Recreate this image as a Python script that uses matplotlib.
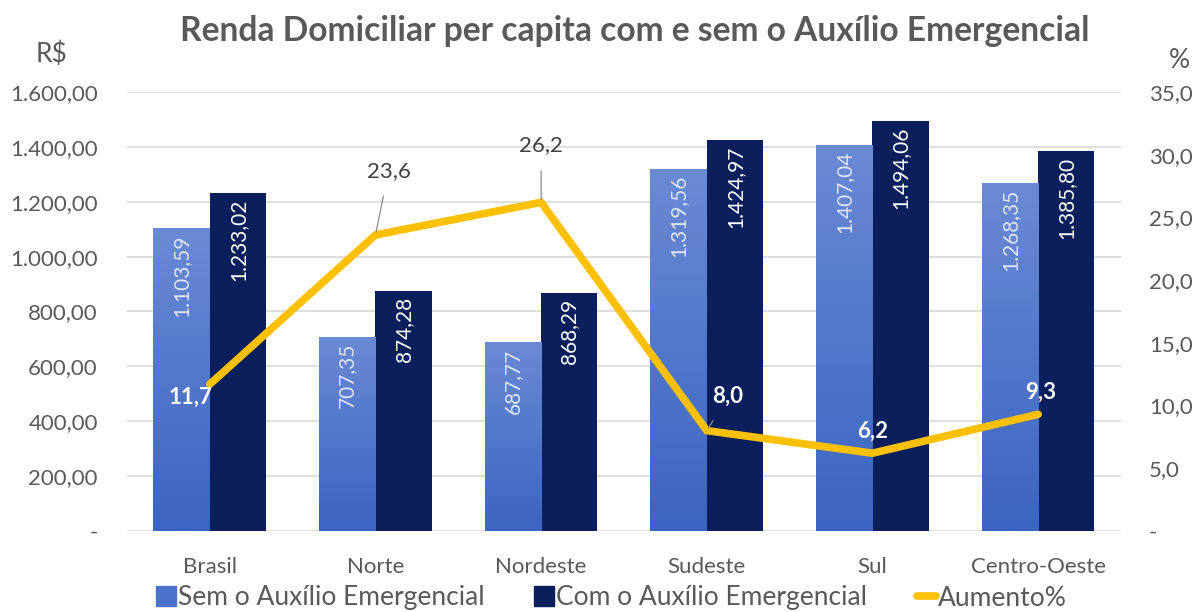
import matplotlib
matplotlib.use('Agg')
import matplotlib.pyplot as plt
import numpy as np
from matplotlib.colors import LinearSegmentedColormap
from matplotlib.lines import Line2D

plt.rcParams['font.family'] = ['Lato', 'DejaVu Sans']

regions = ["Brasil", "Norte", "Nordeste", "Sudeste", "Sul", "Centro-Oeste"]
sem_auxilio = [1103.59, 707.35, 687.77, 1319.56, 1407.04, 1268.35]
com_auxilio = [1233.02, 874.28, 868.29, 1424.97, 1494.06, 1385.80]
aumento = [11.7, 23.6, 26.2, 8.0, 6.2, 9.3]
left_ticks = [0, 200, 400, 600, 800, 1000, 1200, 1400, 1600]
right_ticks = [0, 5, 10, 15, 20, 25, 30, 35]


def br(v, d):
    s = f"{v:,.{d}f}"
    return s.replace(",", "X").replace(".", ",").replace("X", ".")


GRAY = '#595959'
LIGHT_TOP = '#6a8ad4'
LIGHT_BOT = '#3a65c2'
DARK = '#0a1f5c'
GOLD = '#FFC000'

fig = plt.figure(figsize=(11.98, 6.12), dpi=100)
ax = fig.add_axes([0.106, 0.1324, 0.8297, 0.7173])
x = np.arange(len(regions))
w = 0.34

bars_sem = ax.bar(x - w / 2, sem_auxilio, width=w, color=LIGHT_BOT, zorder=2)
bars_com = ax.bar(x + w / 2, com_auxilio, width=w, color=DARK, zorder=2)

cmap = LinearSegmentedColormap.from_list('g', [LIGHT_BOT, LIGHT_TOP])
grad = np.linspace(0, 1, 256).reshape(-1, 1)
for b in bars_sem:
    x0 = b.get_x()
    im = ax.imshow(grad, extent=[x0, x0 + b.get_width(), 0, b.get_height()],
                   aspect='auto', cmap=cmap, origin='lower', zorder=2.1)
    im.set_clip_path(b)

for b, v in zip(bars_sem, sem_auxilio):
    ax.annotate(br(v, 2), (b.get_x() + b.get_width() / 2, v), xytext=(0, -6),
                textcoords='offset pixels', rotation=90, ha='center', va='top',
                color='#dce6f7', fontsize=15, zorder=3)
for b, v in zip(bars_com, com_auxilio):
    ax.annotate(br(v, 2), (b.get_x() + b.get_width() / 2, v), xytext=(0, -6),
                textcoords='offset pixels', rotation=90, ha='center', va='top',
                color='white', fontsize=15, zorder=3)

ax.set_xlim(-0.5, len(regions) - 0.5)
ax.set_ylim(0, 1600)
ax.set_yticks(left_ticks)
ax.set_yticklabels(['-' if t == 0 else br(t, 2) for t in left_ticks])
ax.set_xticks(x)
ax.set_xticklabels(regions)
ax.grid(axis='y', color='#d9d9d9', linewidth=1.2, zorder=0)
ax.set_axisbelow(True)
for s in ax.spines.values():
    s.set_visible(False)
ax.tick_params(axis='both', length=0, colors=GRAY, labelsize=16)
ax.tick_params(axis='x', pad=19)
ax.tick_params(axis='y', pad=21)

ax2 = ax.twinx()
ax2.plot(x, aumento, color=GOLD, linewidth=5.5, solid_capstyle='round',
         solid_joinstyle='miter', zorder=4)
ax2.set_ylim(0, 35)
ax2.set_yticks(right_ticks)
ax2.set_yticklabels(['-' if t == 0 else br(t, 1) for t in right_ticks])
for s in ax2.spines.values():
    s.set_visible(False)
ax2.tick_params(axis='y', length=0, colors=GRAY, labelsize=16, pad=20)

offsets = [(-19, -13), (13, 64), (0, 57), (21, 34), (0, 22), (2, 22)]
colors = ['white', '#404040', '#404040', 'white', 'white', 'white']
weights = ['bold', 'normal', 'normal', 'bold', 'bold', 'bold']
leaders = [False, True, True, True, False, False]
for i, v in enumerate(aumento):
    kw = {}
    if leaders[i]:
        kw['arrowprops'] = dict(arrowstyle='-', color='#8c8c8c', lw=0.9,
                                shrinkA=9, shrinkB=2)
    ax2.annotate(br(v, 1), (x[i], v), xytext=offsets[i], textcoords='offset pixels',
                 ha='center', va='center', color=colors[i], fontsize=16,
                 fontweight=weights[i], zorder=5, **kw)

fig.text(635 / 1198, 1 - 31 / 612, 'Renda Domiciliar per capita com e sem o Auxílio Emergencial',
         ha='center', va='center', fontsize=24.2, fontweight='bold', color='#595959')
fig.text(52 / 1198, 1 - 54 / 612, 'R$', ha='center', va='center', fontsize=19, color=GRAY)
fig.text(1179 / 1198, 1 - 61 / 612, '%', ha='center', va='center', fontsize=19, color=GRAY)

handles = [
    Line2D([], [], marker='s', linestyle='none', markersize=14, color='#4a74cb'),
    Line2D([], [], marker='s', linestyle='none', markersize=14, color=DARK),
    Line2D([], [], color=GOLD, linewidth=5.5, solid_capstyle='round'),
]
fig.legend(handles, ['Sem o Auxílio Emergencial', 'Com o Auxílio Emergencial', 'Aumento%'],
           loc='center', bbox_to_anchor=(612 / 1198, 1 - 598 / 612), ncol=3, frameon=False,
           fontsize=19, labelcolor=GRAY, handlelength=0.7, handletextpad=0.1,
           columnspacing=1.9)

fig.savefig('out.png', dpi=100)
